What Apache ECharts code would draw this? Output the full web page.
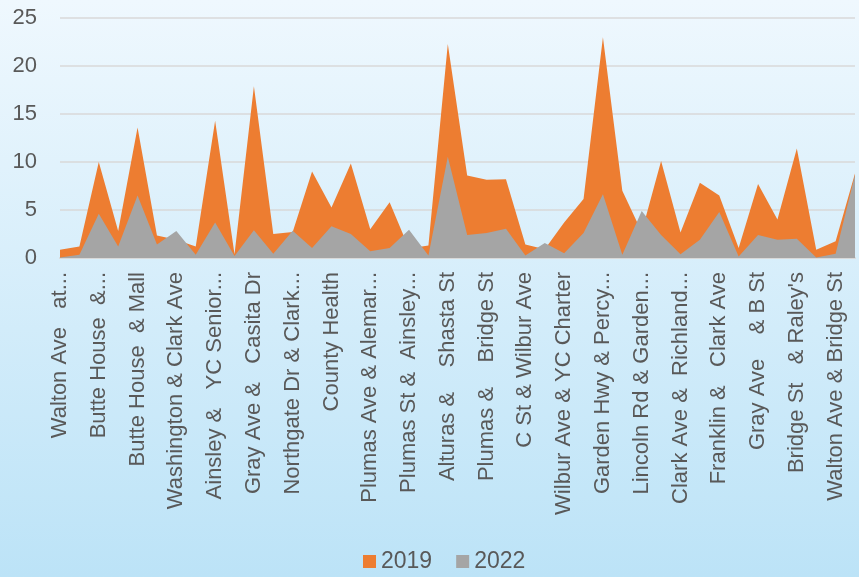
<!DOCTYPE html>
<html>
<head>
<meta charset="utf-8">
<script src="https://cdn.jsdelivr.net/npm/echarts@6/dist/echarts.min.js"></script>
<style>
  html, body { margin: 0; padding: 0; }
  #chart { width: 859px; height: 577px; }
</style>
</head>
<body>
<div id="chart"></div>
<script>
// shown labels (every other category carries one)
var labels = [
  'Walton Ave   at...', 'Butte House  &...', 'Butte House  & Mall', 'Washington & Clark Ave',
  'Ainsley &   YC Senior...', 'Gray Ave &   Casita Dr', 'Northgate Dr & Clark...', 'County Health',
  'Plumas Ave & Alemar...', 'Plumas St &  Ainsley...', 'Alturas &    Shasta St', 'Plumas &    Bridge St',
  'C St & Wilbur Ave', 'Wilbur Ave & YC Charter', 'Garden Hwy & Percy...', 'Lincoln Rd & Garden...',
  'Clark Ave &  Richland...', 'Franklin &   Clark Ave', 'Gray Ave    & B St', 'Bridge St   & Raley\'s',
  'Walton Ave & Bridge St'
]
var data2019 = [0.87, 1.2, 10.0, 2.8, 13.6, 2.35, 1.9, 1.2, 14.3, 0.4, 17.9, 2.5, 2.7, 9.0, 5.25,
  9.85, 3.0, 5.8, 1.0, 1.3, 22.3, 8.6, 8.15, 8.2, 1.4, 0.9, 3.7, 6.15, 23.0, 7.0, 2.7, 10.1, 2.65,
  7.85, 6.5, 1.05, 7.7, 4.0, 11.4, 0.85, 1.75, 8.8]
var data2022 = [0.05, 0.35, 4.6, 1.2, 6.5, 1.4, 2.8, 0.35, 3.7, 0.2, 2.9, 0.45, 2.85, 1.05, 3.3,
  2.5, 0.7, 1.05, 2.95, 0.25, 10.55, 2.4, 2.6, 3.05, 0.25, 1.55, 0.5, 2.6, 6.65, 0.35, 4.9, 2.4, 0.4,
  1.9, 4.8, 0.15, 2.4, 1.9, 2.0, 0.05, 0.45, 8.65]
var yTicks = [0, 5, 10, 15, 20, 25]

var categories = []
for (var i = 0; i < data2019.length; i++) {
  categories.push(i % 2 === 0 ? labels[i / 2] : '')
}

var font = '"Liberation Sans", Arial, sans-serif'
var chart = echarts.init(document.getElementById('chart'))

chart.setOption({
  animation: false,
  backgroundColor: {
    type: 'linear', x: 0, y: 0, x2: 0, y2: 1,
    colorStops: [
      { offset: 0, color: '#eff8fe' },
      { offset: 1, color: '#bce3f7' }
    ]
  },
  textStyle: { fontFamily: font },
  legend: {
    data: ['2019', '2022'],
    top: 545,
    left: 358,
    icon: 'rect',
    itemWidth: 13,
    itemHeight: 13,
    itemGap: 24,
    textStyle: { fontSize: 23, color: '#595959', fontFamily: font }
  },
  grid: { left: 60, right: 4, top: 18, bottom: 319 },
  xAxis: {
    type: 'category',
    data: categories,
    boundaryGap: false,
    axisLine: { lineStyle: { color: '#d9d9d9', width: 2 } },
    axisTick: { show: false },
    axisLabel: {
      interval: 1,
      rotate: 90,
      margin: 14,
      fontSize: 22,
      color: '#595959',
      fontFamily: font
    }
  },
  yAxis: {
    type: 'value',
    min: yTicks[0],
    max: yTicks[yTicks.length - 1],
    interval: 5,
    axisLine: { show: false },
    axisTick: { show: false },
    axisLabel: { fontSize: 22, color: '#595959', margin: 23, fontFamily: font },
    splitLine: { lineStyle: { color: '#d9d9d9', width: 1.5 } }
  },
  series: [
    {
      name: '2019',
      type: 'line',
      data: data2019,
      symbol: 'none',
      lineStyle: { width: 0 },
      itemStyle: { color: '#ed7d31' },
      areaStyle: { color: '#ed7d31', opacity: 1 }
    },
    {
      name: '2022',
      type: 'line',
      data: data2022,
      symbol: 'none',
      lineStyle: { width: 0 },
      itemStyle: { color: '#a5a5a5' },
      areaStyle: { color: '#a5a5a5', opacity: 1 }
    }
  ]
})
</script>
</body>
</html>
